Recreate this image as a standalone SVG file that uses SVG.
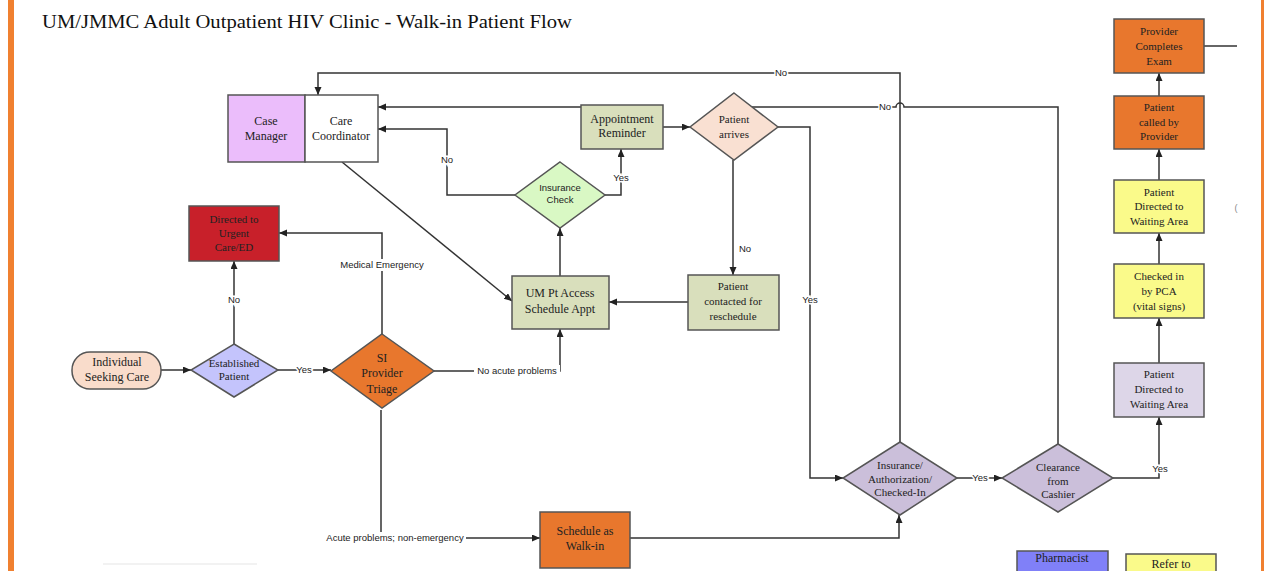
<svg xmlns="http://www.w3.org/2000/svg" width="1264" height="571" viewBox="0 0 1264 571">
<defs>
<marker id="arr" markerWidth="9" markerHeight="8" refX="8" refY="3.5" orient="auto" markerUnits="userSpaceOnUse">
<path d="M0,0 L8,3.5 L0,7 z" fill="#222"/>
</marker>
<style>
.ln{fill:none;stroke:#333;stroke-width:1.5}
.ar{marker-end:url(#arr)}
.nd{stroke:#555;stroke-width:1.5}
.t{font-family:"Liberation Serif",serif;font-size:12px;fill:#222;text-anchor:middle}
.ts{font-family:"Liberation Serif",serif;font-size:11px;fill:#222;text-anchor:middle}
.tsans{font-family:"Liberation Sans",sans-serif;font-size:9.5px;fill:#222;text-anchor:middle}
.lbl{font-family:"Liberation Sans",sans-serif;font-size:9.5px;fill:#222;text-anchor:middle;stroke:#fff;stroke-width:3;paint-order:stroke}
.bg{fill:#fff}
.olive{fill:#d9dfbc}
.orange{fill:#e8772d}
.yellow{fill:#fafa8a}
.purple{fill:#cbbfda}
</style>
</defs>
<rect x="0" y="0" width="1264" height="571" fill="#fff"/>
<rect x="8" y="0" width="6" height="571" fill="#f08030"/>
<rect x="1261" y="0" width="3" height="571" fill="#f08030"/>
<line x1="103" y1="564" x2="257" y2="564" stroke="#f2f2f2" stroke-width="2"/>
<text x="42" y="28" font-family="Liberation Serif, serif" font-size="19" fill="#111" textLength="530" lengthAdjust="spacingAndGlyphs">UM/JMMC Adult Outpatient HIV Clinic - Walk-in Patient Flow</text>
<text x="1236" y="211" font-family="Liberation Sans, sans-serif" font-size="9" fill="#888" text-anchor="middle">(</text>

<g id="connectors">
<path class="ln ar" d="M161,370 H191"/>
<path class="ln ar" d="M278,370 H331"/>
<path class="ln ar" d="M234,344 V261"/>
<path class="ln ar" d="M382,334 V233 H279"/>
<path class="ln ar" d="M434,371 H560 V329"/>
<path class="ln ar" d="M381,410 V538 H540"/>
<path class="ln ar" d="M630,538 H899 V515"/>
<path class="ln ar" d="M342,162 L512,301"/>
<path class="ln ar" d="M560,276 V228"/>
<path class="ln ar" d="M515,195 H447 V129 H378"/>
<path class="ln ar" d="M605,195 H621 V149"/>
<path class="ln ar" d="M663,127 H690"/>
<path class="ln ar" d="M733,160 V275"/>
<path class="ln ar" d="M688,302 H609"/>
<path class="ln ar" d="M778,127 H810 V478 H843"/>
<path class="ln ar" d="M900,442 V73 H318 V95"/>
<path class="ln ar" d="M1058,444 V107 H904 A4,4 0 0 0 896,107 H752 M581,107 H378"/>
<path class="ln ar" d="M957,478 H1002"/>
<path class="ln ar" d="M1113,478 H1159 V417"/>
<path class="ln ar" d="M1159,363 V318"/>
<path class="ln ar" d="M1159,264 V233"/>
<path class="ln ar" d="M1159,180 V149"/>
<path class="ln ar" d="M1159,96 V73"/>
<path class="ln" d="M1204,46 H1237"/>
<rect class="bg" x="339" y="259" width="86" height="12"/>
<rect class="bg" x="474" y="365" width="86" height="12"/>
<rect class="bg" x="325" y="532" width="141" height="12"/>
<text class="lbl" x="234" y="303">No</text>
<text class="lbl" x="304" y="373">Yes</text>
<text class="lbl" x="382" y="268">Medical Emergency</text>
<text class="lbl" x="517" y="374">No acute problems</text>
<text class="lbl" x="395" y="541">Acute problems; non-emergency</text>
<text class="lbl" x="447" y="163">No</text>
<text class="lbl" x="621" y="181">Yes</text>
<text class="lbl" x="745" y="252">No</text>
<text class="lbl" x="810" y="303">Yes</text>
<text class="lbl" x="781" y="76">No</text>
<text class="lbl" x="885" y="110">No</text>
<text class="lbl" x="980" y="481">Yes</text>
<text class="lbl" x="1160" y="472">Yes</text>
</g>

<g id="case-care">
<rect class="nd" x="228" y="95" width="77" height="67" fill="#ebbdfb"/>
<rect class="nd" x="305" y="95" width="73" height="67" fill="#fff"/>
<text class="t" x="266" y="125">Case</text>
<text class="t" x="266" y="140">Manager</text>
<text class="t" x="341" y="125">Care</text>
<text class="t" x="341" y="140">Coordinator</text>
</g>
<g id="appt-reminder">
<rect class="nd olive" x="581" y="105" width="82" height="44"/>
<text class="t" x="622" y="123">Appointment</text>
<text class="t" x="622" y="137">Reminder</text>
</g>
<g id="patient-arrives">
<polygon class="nd" points="734,93 778,127 734,160 690,127" fill="#f9e0d2"/>
<text class="ts" x="734" y="123">Patient</text>
<text class="ts" x="734" y="138">arrives</text>
</g>
<g id="insurance-check">
<polygon class="nd" points="560,162 605,195 560,228 515,195" fill="#d9f8c4"/>
<text class="tsans" x="560" y="191">Insurance</text>
<text class="tsans" x="560" y="203">Check</text>
</g>
<g id="um-pt-access">
<rect class="nd olive" x="512" y="276" width="97" height="53"/>
<text class="t" x="560" y="297" font-size="12.5">UM Pt Access</text>
<text class="t" x="560" y="313" font-size="12.5">Schedule Appt</text>
</g>
<g id="patient-contacted">
<rect class="nd olive" x="688" y="275" width="91" height="55"/>
<text class="ts" x="733" y="290">Patient</text>
<text class="ts" x="733" y="305">contacted for</text>
<text class="ts" x="733" y="320">reschedule</text>
</g>
<g id="urgent-care">
<rect class="nd" x="189" y="206" width="90" height="55" fill="#c8202a"/>
<text class="ts" x="234" y="223" fill="#300">Directed to</text>
<text class="ts" x="234" y="237" fill="#300">Urgent</text>
<text class="ts" x="234" y="251" fill="#300">Care/ED</text>
</g>
<g id="individual">
<rect class="nd" x="72" y="352" width="89" height="37" rx="18" fill="#f9dccb"/>
<text class="t" x="117" y="366">Individual</text>
<text class="t" x="117" y="381">Seeking Care</text>
</g>
<g id="established">
<polygon class="nd" points="234,344 278,370 234,397 191,370" fill="#c4c4fc"/>
<text class="ts" x="234" y="367">Established</text>
<text class="ts" x="234" y="380">Patient</text>
</g>
<g id="si-triage">
<polygon class="nd" points="382,334 434,371 382,408 331,371" fill="#e8772d"/>
<text class="t" x="382" y="362">SI</text>
<text class="t" x="382" y="377">Provider</text>
<text class="t" x="382" y="393">Triage</text>
</g>
<g id="walk-in">
<rect class="nd orange" x="540" y="512" width="90" height="56"/>
<text class="t" x="585" y="535">Schedule as</text>
<text class="t" x="585" y="550">Walk-in</text>
</g>
<g id="ins-auth">
<polygon class="nd purple" points="900,442 957,478 900,515 843,478"/>
<text class="ts" x="900" y="469">Insurance/</text>
<text class="ts" x="900" y="483">Authorization/</text>
<text class="ts" x="900" y="496">Checked-In</text>
</g>
<g id="clearance">
<polygon class="nd purple" points="1058,444 1113,478 1058,512 1002,478"/>
<text class="ts" x="1058" y="471">Clearance</text>
<text class="ts" x="1058" y="485">from</text>
<text class="ts" x="1058" y="498">Cashier</text>
</g>
<g id="waiting-1">
<rect class="nd" x="1114" y="363" width="90" height="54" fill="#ddd6e8"/>
<text class="ts" x="1159" y="378">Patient</text>
<text class="ts" x="1159" y="393">Directed to</text>
<text class="ts" x="1159" y="408">Waiting Area</text>
</g>
<g id="checked-pca">
<rect class="nd yellow" x="1114" y="264" width="90" height="54"/>
<text class="ts" x="1159" y="280">Checked in</text>
<text class="ts" x="1159" y="295">by PCA</text>
<text class="ts" x="1159" y="310">(vital signs)</text>
</g>
<g id="waiting-2">
<rect class="nd yellow" x="1114" y="180" width="90" height="53"/>
<text class="ts" x="1159" y="196">Patient</text>
<text class="ts" x="1159" y="210">Directed to</text>
<text class="ts" x="1159" y="225">Waiting Area</text>
</g>
<g id="called-provider">
<rect class="nd orange" x="1114" y="96" width="90" height="53"/>
<text class="ts" x="1159" y="111">Patient</text>
<text class="ts" x="1159" y="126">called by</text>
<text class="ts" x="1159" y="140">Provider</text>
</g>
<g id="provider-exam">
<rect class="nd orange" x="1114" y="19" width="90" height="54"/>
<text class="ts" x="1159" y="35">Provider</text>
<text class="ts" x="1159" y="50">Completes</text>
<text class="ts" x="1159" y="65">Exam</text>
</g>
<g id="pharmacist">
<rect class="nd" x="1017" y="551" width="91" height="30" fill="#8080f8"/>
<text class="t" x="1062" y="562">Pharmacist</text>
</g>
<g id="refer-to">
<rect class="nd yellow" x="1126" y="554" width="90" height="30"/>
<text class="t" x="1171" y="568">Refer to</text>
</g>
</svg>
